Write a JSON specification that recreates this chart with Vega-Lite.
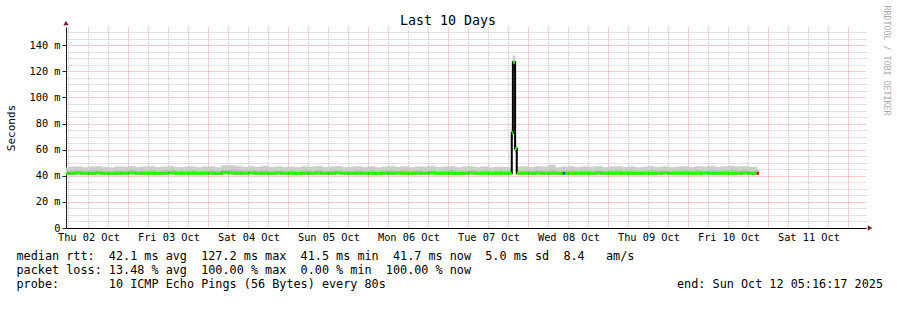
{
  "$schema": "https://vega.github.io/schema/vega-lite/v6.json",
  "width": 800,
  "height": 201,
  "autosize": "none",
  "padding": {"left": 66, "top": 27, "right": 31, "bottom": 82},
  "background": "white",
  "config": {"view": {"stroke": null}},
  "title": {"text": "Last 10 Days", "font": "DejaVu Sans Mono", "fontSize": 13.3, "fontWeight": "normal", "color": "#000", "anchor": "middle", "frame": "group", "dx": -18, "dy": 26},
  "datasets": {
    "sixes": [
      {"t0":"2025-10-02T06:00Z"},{"t0":"2025-10-02T12:00Z"},{"t0":"2025-10-02T18:00Z"},
      {"t0":"2025-10-03T06:00Z"},{"t0":"2025-10-03T12:00Z"},{"t0":"2025-10-03T18:00Z"},
      {"t0":"2025-10-04T06:00Z"},{"t0":"2025-10-04T12:00Z"},{"t0":"2025-10-04T18:00Z"},
      {"t0":"2025-10-05T06:00Z"},{"t0":"2025-10-05T12:00Z"},{"t0":"2025-10-05T18:00Z"},
      {"t0":"2025-10-06T06:00Z"},{"t0":"2025-10-06T12:00Z"},{"t0":"2025-10-06T18:00Z"},
      {"t0":"2025-10-07T06:00Z"},{"t0":"2025-10-07T12:00Z"},{"t0":"2025-10-07T18:00Z"},
      {"t0":"2025-10-08T06:00Z"},{"t0":"2025-10-08T12:00Z"},{"t0":"2025-10-08T18:00Z"},
      {"t0":"2025-10-09T06:00Z"},{"t0":"2025-10-09T12:00Z"},{"t0":"2025-10-09T18:00Z"},
      {"t0":"2025-10-10T06:00Z"},{"t0":"2025-10-10T12:00Z"},{"t0":"2025-10-10T18:00Z"},
      {"t0":"2025-10-11T06:00Z"},{"t0":"2025-10-11T12:00Z"},{"t0":"2025-10-11T18:00Z"}
    ],
    "rtt": [
      {"t0":"2025-10-02T05:16Z","t1":"2025-10-02T06:00Z","lo":41.3,"mid":43.2,"hi":46.2,"med":41.9,"loss":"0"},
      {"t0":"2025-10-02T06:00Z","t1":"2025-10-02T08:00Z","lo":41.3,"mid":43.6,"hi":46.8,"med":41.9,"loss":"0"},
      {"t0":"2025-10-02T08:00Z","t1":"2025-10-02T10:00Z","lo":41.3,"mid":43.8,"hi":47.0,"med":42.2,"loss":"0"},
      {"t0":"2025-10-02T10:00Z","t1":"2025-10-02T12:00Z","lo":41.3,"mid":43.4,"hi":46.4,"med":41.9,"loss":"0"},
      {"t0":"2025-10-02T12:00Z","t1":"2025-10-02T14:00Z","lo":41.3,"mid":43.9,"hi":46.9,"med":41.9,"loss":"0"},
      {"t0":"2025-10-02T14:00Z","t1":"2025-10-02T16:00Z","lo":41.3,"mid":44.0,"hi":47.2,"med":42.1,"loss":"0"},
      {"t0":"2025-10-02T16:00Z","t1":"2025-10-02T18:00Z","lo":41.3,"mid":43.5,"hi":46.6,"med":41.9,"loss":"0"},
      {"t0":"2025-10-02T18:00Z","t1":"2025-10-02T20:00Z","lo":41.3,"mid":43.2,"hi":46.3,"med":41.8,"loss":"0"},
      {"t0":"2025-10-02T20:00Z","t1":"2025-10-02T22:00Z","lo":41.3,"mid":43.8,"hi":47.0,"med":42.0,"loss":"0"},
      {"t0":"2025-10-02T22:00Z","t1":"2025-10-03T00:00Z","lo":41.3,"mid":43.6,"hi":46.8,"med":41.9,"loss":"0"},
      {"t0":"2025-10-03T00:00Z","t1":"2025-10-03T02:00Z","lo":41.3,"mid":44.1,"hi":47.4,"med":42.2,"loss":"0"},
      {"t0":"2025-10-03T02:00Z","t1":"2025-10-03T04:00Z","lo":41.3,"mid":43.5,"hi":46.7,"med":41.9,"loss":"0"},
      {"t0":"2025-10-03T04:00Z","t1":"2025-10-03T06:00Z","lo":41.3,"mid":43.7,"hi":46.9,"med":41.9,"loss":"0"},
      {"t0":"2025-10-03T06:00Z","t1":"2025-10-03T08:00Z","lo":41.3,"mid":44.0,"hi":47.2,"med":42.0,"loss":"0"},
      {"t0":"2025-10-03T08:00Z","t1":"2025-10-03T10:00Z","lo":41.3,"mid":43.3,"hi":46.5,"med":41.8,"loss":"0"},
      {"t0":"2025-10-03T10:00Z","t1":"2025-10-03T12:00Z","lo":41.3,"mid":43.8,"hi":46.9,"med":41.9,"loss":"0"},
      {"t0":"2025-10-03T12:00Z","t1":"2025-10-03T14:00Z","lo":41.3,"mid":44.1,"hi":47.3,"med":42.2,"loss":"0"},
      {"t0":"2025-10-03T14:00Z","t1":"2025-10-03T16:00Z","lo":41.3,"mid":43.5,"hi":46.6,"med":41.9,"loss":"0"},
      {"t0":"2025-10-03T16:00Z","t1":"2025-10-03T18:00Z","lo":41.3,"mid":43.6,"hi":46.8,"med":41.9,"loss":"0"},
      {"t0":"2025-10-03T18:00Z","t1":"2025-10-03T20:00Z","lo":41.3,"mid":43.9,"hi":47.1,"med":42.0,"loss":"0"},
      {"t0":"2025-10-03T20:00Z","t1":"2025-10-03T22:00Z","lo":41.3,"mid":43.4,"hi":46.5,"med":41.9,"loss":"0"},
      {"t0":"2025-10-03T22:00Z","t1":"2025-10-04T00:00Z","lo":41.3,"mid":43.7,"hi":46.9,"med":41.9,"loss":"0"},
      {"t0":"2025-10-04T00:00Z","t1":"2025-10-04T02:00Z","lo":41.3,"mid":43.8,"hi":47.0,"med":42.0,"loss":"0"},
      {"t0":"2025-10-04T02:00Z","t1":"2025-10-04T04:00Z","lo":41.3,"mid":43.3,"hi":46.4,"med":41.8,"loss":"0"},
      {"t0":"2025-10-04T04:00Z","t1":"2025-10-04T06:00Z","lo":41.3,"mid":44.3,"hi":47.8,"med":42.3,"loss":"0"},
      {"t0":"2025-10-04T06:00Z","t1":"2025-10-04T08:00Z","lo":41.3,"mid":44.5,"hi":48.0,"med":42.1,"loss":"0"},
      {"t0":"2025-10-04T08:00Z","t1":"2025-10-04T10:00Z","lo":41.3,"mid":44.0,"hi":47.3,"med":41.9,"loss":"0"},
      {"t0":"2025-10-04T10:00Z","t1":"2025-10-04T12:00Z","lo":41.3,"mid":43.6,"hi":46.7,"med":41.9,"loss":"0"},
      {"t0":"2025-10-04T12:00Z","t1":"2025-10-04T14:00Z","lo":41.3,"mid":43.9,"hi":47.2,"med":42.2,"loss":"0"},
      {"t0":"2025-10-04T14:00Z","t1":"2025-10-04T16:00Z","lo":41.3,"mid":43.6,"hi":46.8,"med":41.9,"loss":"0"},
      {"t0":"2025-10-04T16:00Z","t1":"2025-10-04T18:00Z","lo":41.3,"mid":44.2,"hi":47.5,"med":42.0,"loss":"0"},
      {"t0":"2025-10-04T18:00Z","t1":"2025-10-04T20:00Z","lo":41.3,"mid":43.5,"hi":46.6,"med":41.9,"loss":"0"},
      {"t0":"2025-10-04T20:00Z","t1":"2025-10-04T22:00Z","lo":41.3,"mid":43.8,"hi":47.0,"med":42.1,"loss":"0"},
      {"t0":"2025-10-04T22:00Z","t1":"2025-10-05T00:00Z","lo":41.3,"mid":43.5,"hi":46.7,"med":41.9,"loss":"0"},
      {"t0":"2025-10-05T00:00Z","t1":"2025-10-05T02:00Z","lo":41.3,"mid":43.7,"hi":46.9,"med":41.9,"loss":"0"},
      {"t0":"2025-10-05T02:00Z","t1":"2025-10-05T04:00Z","lo":41.3,"mid":43.4,"hi":46.5,"med":41.8,"loss":"0"},
      {"t0":"2025-10-05T04:00Z","t1":"2025-10-05T06:00Z","lo":41.3,"mid":43.9,"hi":47.1,"med":42.0,"loss":"0"},
      {"t0":"2025-10-05T06:00Z","t1":"2025-10-05T08:00Z","lo":41.3,"mid":43.6,"hi":46.8,"med":41.9,"loss":"0"},
      {"t0":"2025-10-05T08:00Z","t1":"2025-10-05T10:00Z","lo":41.3,"mid":44.1,"hi":47.4,"med":42.1,"loss":"0"},
      {"t0":"2025-10-05T10:00Z","t1":"2025-10-05T12:00Z","lo":41.3,"mid":43.4,"hi":46.6,"med":41.9,"loss":"0"},
      {"t0":"2025-10-05T12:00Z","t1":"2025-10-05T14:00Z","lo":41.3,"mid":43.7,"hi":46.9,"med":41.9,"loss":"0"},
      {"t0":"2025-10-05T14:00Z","t1":"2025-10-05T16:00Z","lo":41.3,"mid":44.0,"hi":47.3,"med":42.2,"loss":"0"},
      {"t0":"2025-10-05T16:00Z","t1":"2025-10-05T18:00Z","lo":41.3,"mid":43.4,"hi":46.5,"med":41.9,"loss":"0"},
      {"t0":"2025-10-05T18:00Z","t1":"2025-10-05T20:00Z","lo":41.3,"mid":43.6,"hi":46.8,"med":41.9,"loss":"0"},
      {"t0":"2025-10-05T20:00Z","t1":"2025-10-05T22:00Z","lo":41.3,"mid":44.0,"hi":47.2,"med":42.0,"loss":"0"},
      {"t0":"2025-10-05T22:00Z","t1":"2025-10-06T00:00Z","lo":41.3,"mid":43.5,"hi":46.6,"med":41.9,"loss":"0"},
      {"t0":"2025-10-06T00:00Z","t1":"2025-10-06T02:00Z","lo":41.3,"mid":43.8,"hi":47.0,"med":41.9,"loss":"0"},
      {"t0":"2025-10-06T02:00Z","t1":"2025-10-06T04:00Z","lo":41.3,"mid":43.3,"hi":46.4,"med":41.8,"loss":"0"},
      {"t0":"2025-10-06T04:00Z","t1":"2025-10-06T06:00Z","lo":41.3,"mid":43.7,"hi":46.9,"med":42.0,"loss":"0"},
      {"t0":"2025-10-06T06:00Z","t1":"2025-10-06T08:00Z","lo":41.3,"mid":44.0,"hi":47.3,"med":41.9,"loss":"0"},
      {"t0":"2025-10-06T08:00Z","t1":"2025-10-06T10:00Z","lo":41.3,"mid":43.6,"hi":46.7,"med":42.1,"loss":"0"},
      {"t0":"2025-10-06T10:00Z","t1":"2025-10-06T12:00Z","lo":41.3,"mid":43.9,"hi":47.1,"med":41.9,"loss":"0"},
      {"t0":"2025-10-06T12:00Z","t1":"2025-10-06T14:00Z","lo":41.3,"mid":43.4,"hi":46.5,"med":41.9,"loss":"0"},
      {"t0":"2025-10-06T14:00Z","t1":"2025-10-06T16:00Z","lo":41.3,"mid":43.8,"hi":47.0,"med":42.0,"loss":"0"},
      {"t0":"2025-10-06T16:00Z","t1":"2025-10-06T18:00Z","lo":41.3,"mid":43.6,"hi":46.8,"med":41.9,"loss":"0"},
      {"t0":"2025-10-06T18:00Z","t1":"2025-10-06T20:00Z","lo":41.3,"mid":44.1,"hi":47.4,"med":42.2,"loss":"0"},
      {"t0":"2025-10-06T20:00Z","t1":"2025-10-06T22:00Z","lo":41.3,"mid":43.5,"hi":46.6,"med":41.9,"loss":"0"},
      {"t0":"2025-10-06T22:00Z","t1":"2025-10-07T00:00Z","lo":41.3,"mid":43.7,"hi":46.9,"med":41.9,"loss":"0"},
      {"t0":"2025-10-07T00:00Z","t1":"2025-10-07T02:00Z","lo":41.3,"mid":44.0,"hi":47.2,"med":42.0,"loss":"0"},
      {"t0":"2025-10-07T02:00Z","t1":"2025-10-07T04:00Z","lo":41.3,"mid":43.4,"hi":46.5,"med":41.8,"loss":"0"},
      {"t0":"2025-10-07T04:00Z","t1":"2025-10-07T06:00Z","lo":41.3,"mid":43.7,"hi":46.9,"med":41.9,"loss":"0"},
      {"t0":"2025-10-07T06:00Z","t1":"2025-10-07T08:00Z","lo":41.3,"mid":43.9,"hi":47.1,"med":42.1,"loss":"0"},
      {"t0":"2025-10-07T08:00Z","t1":"2025-10-07T10:00Z","lo":41.3,"mid":43.5,"hi":46.6,"med":41.9,"loss":"0"},
      {"t0":"2025-10-07T10:00Z","t1":"2025-10-07T12:00Z","lo":41.3,"mid":43.8,"hi":47.0,"med":41.9,"loss":"0"},
      {"t0":"2025-10-07T12:00Z","t1":"2025-10-07T14:00Z","lo":41.3,"mid":43.3,"hi":46.4,"med":41.9,"loss":"0"},
      {"t0":"2025-10-07T14:00Z","t1":"2025-10-07T16:00Z","lo":41.3,"mid":43.6,"hi":46.8,"med":42.0,"loss":"0"},
      {"t0":"2025-10-07T16:00Z","t1":"2025-10-07T18:00Z","lo":41.3,"mid":43.5,"hi":46.7,"med":41.9,"loss":"0"},
      {"t0":"2025-10-07T18:00Z","t1":"2025-10-07T19:00Z","lo":41.3,"mid":43.4,"hi":46.5,"med":41.9,"loss":"0"},
      {"t0":"2025-10-07T19:00Z","t1":"2025-10-07T19:20Z","lo":68,"mid":71,"hi":78,"med":73,"loss":"0"},
      {"t0":"2025-10-07T19:20Z","t1":"2025-10-07T20:00Z","lo":121,"mid":124,"hi":132,"med":127,"loss":"0"},
      {"t0":"2025-10-07T20:00Z","t1":"2025-10-07T20:30Z","lo":58,"mid":60,"hi":66,"med":61,"loss":"0"},
      {"t0":"2025-10-07T20:30Z","t1":"2025-10-07T22:00Z","lo":41.3,"mid":43.6,"hi":46.8,"med":41.9,"loss":"0"},
      {"t0":"2025-10-07T22:00Z","t1":"2025-10-08T00:00Z","lo":41.3,"mid":43.8,"hi":47.0,"med":41.9,"loss":"0"},
      {"t0":"2025-10-08T00:00Z","t1":"2025-10-08T02:00Z","lo":41.3,"mid":43.5,"hi":46.6,"med":41.9,"loss":"0"},
      {"t0":"2025-10-08T02:00Z","t1":"2025-10-08T04:00Z","lo":41.3,"mid":43.9,"hi":47.2,"med":42.1,"loss":"0"},
      {"t0":"2025-10-08T04:00Z","t1":"2025-10-08T06:00Z","lo":41.3,"mid":43.6,"hi":46.8,"med":41.9,"loss":"0"},
      {"t0":"2025-10-08T06:00Z","t1":"2025-10-08T08:00Z","lo":41.3,"mid":44.3,"hi":48.3,"med":42.0,"loss":"0"},
      {"t0":"2025-10-08T08:00Z","t1":"2025-10-08T10:00Z","lo":41.3,"mid":43.4,"hi":46.5,"med":41.9,"loss":"0"},
      {"t0":"2025-10-08T10:00Z","t1":"2025-10-08T10:20Z","lo":41.3,"mid":43.6,"hi":46.9,"med":41.9,"loss":"0"},
      {"t0":"2025-10-08T10:20Z","t1":"2025-10-08T11:00Z","lo":41.3,"mid":43.6,"hi":46.9,"med":41.9,"loss":"2/10"},
      {"t0":"2025-10-08T11:00Z","t1":"2025-10-08T12:00Z","lo":41.3,"mid":43.6,"hi":46.9,"med":41.9,"loss":"0"},
      {"t0":"2025-10-08T12:00Z","t1":"2025-10-08T14:00Z","lo":41.3,"mid":43.9,"hi":47.1,"med":41.9,"loss":"0"},
      {"t0":"2025-10-08T14:00Z","t1":"2025-10-08T16:00Z","lo":41.3,"mid":43.5,"hi":46.6,"med":42.0,"loss":"0"},
      {"t0":"2025-10-08T16:00Z","t1":"2025-10-08T18:00Z","lo":41.3,"mid":43.8,"hi":47.0,"med":41.9,"loss":"0"},
      {"t0":"2025-10-08T18:00Z","t1":"2025-10-08T20:00Z","lo":41.3,"mid":43.5,"hi":46.7,"med":41.9,"loss":"0"},
      {"t0":"2025-10-08T20:00Z","t1":"2025-10-08T22:00Z","lo":41.3,"mid":44.0,"hi":47.3,"med":42.1,"loss":"0"},
      {"t0":"2025-10-08T22:00Z","t1":"2025-10-09T00:00Z","lo":41.3,"mid":43.4,"hi":46.5,"med":41.9,"loss":"0"},
      {"t0":"2025-10-09T00:00Z","t1":"2025-10-09T02:00Z","lo":41.3,"mid":43.7,"hi":46.9,"med":41.9,"loss":"0"},
      {"t0":"2025-10-09T02:00Z","t1":"2025-10-09T04:00Z","lo":41.3,"mid":44.0,"hi":47.2,"med":42.0,"loss":"0"},
      {"t0":"2025-10-09T04:00Z","t1":"2025-10-09T06:00Z","lo":41.3,"mid":43.5,"hi":46.6,"med":41.9,"loss":"0"},
      {"t0":"2025-10-09T06:00Z","t1":"2025-10-09T08:00Z","lo":41.3,"mid":43.8,"hi":47.0,"med":41.9,"loss":"0"},
      {"t0":"2025-10-09T08:00Z","t1":"2025-10-09T10:00Z","lo":41.3,"mid":43.3,"hi":46.4,"med":41.8,"loss":"0"},
      {"t0":"2025-10-09T10:00Z","t1":"2025-10-09T12:00Z","lo":41.3,"mid":43.6,"hi":46.8,"med":42.0,"loss":"0"},
      {"t0":"2025-10-09T12:00Z","t1":"2025-10-09T14:00Z","lo":41.3,"mid":44.0,"hi":47.3,"med":41.9,"loss":"0"},
      {"t0":"2025-10-09T14:00Z","t1":"2025-10-09T16:00Z","lo":41.3,"mid":43.5,"hi":46.7,"med":41.9,"loss":"0"},
      {"t0":"2025-10-09T16:00Z","t1":"2025-10-09T18:00Z","lo":41.3,"mid":43.8,"hi":47.0,"med":42.1,"loss":"0"},
      {"t0":"2025-10-09T18:00Z","t1":"2025-10-09T20:00Z","lo":41.3,"mid":43.4,"hi":46.5,"med":41.9,"loss":"0"},
      {"t0":"2025-10-09T20:00Z","t1":"2025-10-09T22:00Z","lo":41.3,"mid":43.7,"hi":46.9,"med":41.9,"loss":"0"},
      {"t0":"2025-10-09T22:00Z","t1":"2025-10-10T00:00Z","lo":41.3,"mid":43.9,"hi":47.1,"med":42.0,"loss":"0"},
      {"t0":"2025-10-10T00:00Z","t1":"2025-10-10T02:00Z","lo":41.3,"mid":43.5,"hi":46.6,"med":41.9,"loss":"0"},
      {"t0":"2025-10-10T02:00Z","t1":"2025-10-10T04:00Z","lo":41.3,"mid":44.0,"hi":47.2,"med":41.9,"loss":"0"},
      {"t0":"2025-10-10T04:00Z","t1":"2025-10-10T06:00Z","lo":41.3,"mid":43.6,"hi":46.8,"med":42.1,"loss":"0"},
      {"t0":"2025-10-10T06:00Z","t1":"2025-10-10T08:00Z","lo":41.3,"mid":44.1,"hi":47.4,"med":41.9,"loss":"0"},
      {"t0":"2025-10-10T08:00Z","t1":"2025-10-10T10:00Z","lo":41.3,"mid":43.5,"hi":46.6,"med":41.9,"loss":"0"},
      {"t0":"2025-10-10T10:00Z","t1":"2025-10-10T12:00Z","lo":41.3,"mid":43.8,"hi":47.0,"med":42.0,"loss":"0"},
      {"t0":"2025-10-10T12:00Z","t1":"2025-10-10T14:00Z","lo":41.3,"mid":44.2,"hi":47.5,"med":41.9,"loss":"0"},
      {"t0":"2025-10-10T14:00Z","t1":"2025-10-10T16:00Z","lo":41.3,"mid":43.7,"hi":46.9,"med":41.9,"loss":"0"},
      {"t0":"2025-10-10T16:00Z","t1":"2025-10-10T18:00Z","lo":41.3,"mid":44.0,"hi":47.2,"med":42.1,"loss":"0"},
      {"t0":"2025-10-10T18:00Z","t1":"2025-10-10T20:00Z","lo":41.3,"mid":43.5,"hi":46.7,"med":41.9,"loss":"0"},
      {"t0":"2025-10-10T20:00Z","t1":"2025-10-10T20:30Z","lo":41.3,"mid":43.6,"hi":46.8,"med":41.9,"loss":"0"},
      {"t0":"2025-10-10T20:30Z","t1":"2025-10-10T21:10Z","lo":41.3,"mid":44.0,"hi":44.5,"med":41.9,"loss":"9/10"}
    ]
  },
  "data": {"name": "rtt"},
  "encoding": {
    "x": {
      "field": "t0",
      "type": "temporal",
      "scale": {"type": "utc", "domain": [{"year": 2025, "month": 10, "date": 2, "hours": 5, "minutes": 16, "seconds": 17, "utc": true}, {"year": 2025, "month": 10, "date": 12, "hours": 5, "minutes": 16, "seconds": 17, "utc": true}]},
      "axis": {
        "tickCount": 10,
        "labelExpr": "['Thu 02 Oct','Fri 03 Oct','Sat 04 Oct','Sun 05 Oct','Mon 06 Oct','Tue 07 Oct','Wed 08 Oct','Thu 09 Oct','Fri 10 Oct','Sat 11 Oct'][round((datum.value - 1759449600000) / 86400000)]",
        "labelOffset": -40,
        "grid": true,
        "gridColor": "#eb9a9a",
        "gridDash": [1, 1],
        "ticks": false,
        "domainColor": "#000",
        "labelOverlap": false,
        "labelFlush": false,
        "labelBound": false,
        "labelFont": "DejaVu Sans Mono",
        "labelFontSize": 10.3,
        "labelColor": "#000",
        "labelPadding": 4,
        "title": [
          "median rtt:\u00a0\u00a042.1 ms avg\u00a0\u00a0127.2 ms max\u00a0\u00a041.5 ms min\u00a0\u00a041.7 ms now\u00a0\u00a05.0 ms sd\u00a0\u00a08.4\u00a0\u00a0\u00a0am/s",
          "packet loss: 13.48 % avg\u00a0\u00a0100.00 % max\u00a0\u00a00.00 % min\u00a0\u00a0100.00 % now",
          "\u00a0",
          "probe:\u00a0\u00a0\u00a0\u00a0\u00a0\u00a0\u00a010 ICMP Echo Pings (56 Bytes) every 80s\u00a0\u00a0\u00a0\u00a0\u00a0\u00a0\u00a0\u00a0\u00a0\u00a0\u00a0\u00a0\u00a0\u00a0\u00a0\u00a0\u00a0\u00a0\u00a0\u00a0\u00a0\u00a0\u00a0\u00a0\u00a0\u00a0\u00a0\u00a0\u00a0\u00a0\u00a0\u00a0\u00a0\u00a0\u00a0\u00a0\u00a0\u00a0\u00a0\u00a0\u00a0end: Sun Oct 12 05:16:17 2025"
        ],
        "titleFont": "DejaVu Sans Mono",
        "titleFontSize": 11.8,
        "titleFontWeight": "normal",
        "titleColor": "#000",
        "titleAlign": "left",
        "titleBaseline": "alphabetic",
        "titleLineHeight": 14,
        "titleX": -50,
        "titleY": 31.5
      }
    }
  },
  "layer": [
    {
      "data": {"name": "sixes"},
      "mark": {"type": "rule", "color": "#c4c4c4", "strokeDash": [1, 1], "strokeWidth": 1},
      "encoding": {}
    },
    {
      "mark": {"type": "bar", "color": "#cdcdcd", "stroke": "#cdcdcd", "strokeWidth": 0.5, "clip": true},
      "encoding": {
        "x2": {"field": "t1"},
        "y": {
          "field": "lo",
          "type": "quantitative",
          "scale": {"domain": [0, 154], "nice": false},
          "axis": {
            "values": [0, 20, 40, 60, 80, 100, 120, 140],
            "grid": true,
            "gridColor": "#eb9a9a",
            "gridDash": [1, 1],
            "ticks": true,
            "tickSize": 4,
            "tickColor": "#1f1f1f",
            "domainColor": "#1f1f1f",
            "labelExpr": "datum.value === 0 ? '0' : datum.value + ' m'",
            "labelFont": "DejaVu Sans Mono",
            "labelFontSize": 10.3,
            "labelColor": "#000",
            "labelPadding": 2,
            "labelOverlap": false,
            "labelBound": false,
            "labelFlush": false,
            "title": "Seconds",
            "titleFont": "DejaVu Sans Mono",
            "titleFontSize": 11,
            "titleFontWeight": "normal",
            "titleColor": "#000",
            "titleX": -55,
            "titleY": 100.5,
            "titleAlign": "center",
            "titleBaseline": "middle",
            "titleAngle": -90
          }
        },
        "y2": {"field": "hi"}
      }
    },
    {
      "mark": {"type": "bar", "color": "#bababa", "stroke": "#bababa", "strokeWidth": 0.5, "clip": true},
      "encoding": {
        "x2": {"field": "t1"},
        "y": {"field": "lo", "type": "quantitative", "scale": {"domain": [0, 154], "nice": false}, "axis": null},
        "y2": {"field": "mid"}
      }
    },
    {
      "mark": {"type": "line", "interpolate": "step-after", "color": "#000", "strokeWidth": 2, "clip": true},
      "encoding": {
        "y": {
          "field": "med",
          "type": "quantitative",
          "scale": {"domain": [0, 154], "nice": false},
          "axis": {
            "orient": "right",
            "values": [5,10,15,25,30,35,45,50,55,65,70,75,85,90,95,105,110,115,125,130,135,145,150],
            "domain": false,
            "ticks": false,
            "labels": false,
            "grid": true,
            "gridColor": "#c4c4c4",
            "gridDash": [1, 1],
            "title": "RRDTOOL / TOBI OETIKER",
            "titleAngle": 90,
            "titleX": 19,
            "titleY": -22,
            "titleAlign": "left",
            "titleBaseline": "middle",
            "titleFont": "DejaVu Sans Mono",
            "titleFontSize": 8.3,
            "titleFontWeight": "normal",
            "titleColor": "#aaaaaa"
          }
        }
      }
    },
    {
      "mark": {"type": "rule", "strokeWidth": 3, "strokeCap": "butt", "clip": true},
      "encoding": {
        "x2": {"field": "t1"},
        "y": {"field": "med", "type": "quantitative", "scale": {"domain": [0, 154], "nice": false}, "axis": null},
        "stroke": {
          "field": "loss",
          "type": "nominal",
          "scale": {"domain": ["0", "1/10", "2/10", "3/10", "4/10", "5/10", "9/10"], "range": ["#26ff00", "#00b8ff", "#0059ff", "#5e00ff", "#7e00ff", "#dd00ff", "#ff0000"]},
          "legend": null
        }
      }
    },
    {
      "transform": [{"filter": "datum.loss === 'none'"}],
      "mark": {"type": "square", "filled": true, "stroke": "#000", "strokeWidth": 1, "opacity": 1},
      "encoding": {
        "fill": {
          "field": "loss",
          "type": "nominal",
          "scale": {"domain": ["0", "1/10", "2/10", "3/10", "4/10", "5/10", "9/10"], "range": ["#26ff00", "#00b8ff", "#0059ff", "#5e00ff", "#7e00ff", "#dd00ff", "#ff0000"]},
          "legend": {
            "title": "loss color:",
            "orient": "none",
            "direction": "horizontal",
            "legendX": -50,
            "legendY": 248,
            "titleOrient": "left",
            "titleFont": "DejaVu Sans Mono",
            "titleFontSize": 11.8,
            "titleFontWeight": "normal",
            "titleColor": "#000",
            "titlePadding": 14,
            "labelFont": "DejaVu Sans Mono",
            "labelFontSize": 11.8,
            "labelColor": "#000",
            "labelOffset": 8,
            "columnPadding": 12,
            "symbolType": "square",
            "symbolSize": 49,
            "symbolStrokeWidth": 1,
            "symbolStrokeColor": "#000",
            "symbolOpacity": 1
          }
        }
      }
    },
    {
      "data": {"values": [{"t0": "2025-10-02T05:16:17Z", "v": 154}]},
      "mark": {"type": "point", "shape": "triangle-up", "filled": true, "color": "#7f1f1f", "size": 28, "yOffset": -4, "opacity": 1},
      "encoding": {
        "y": {"field": "v", "type": "quantitative", "scale": {"domain": [0, 154], "nice": false}, "axis": null}
      }
    },
    {
      "data": {"values": [{"t0": "2025-10-12T05:16:17Z", "v": 0}]},
      "mark": {"type": "point", "shape": "triangle-right", "filled": true, "color": "#7f1f1f", "size": 28, "xOffset": 4, "opacity": 1},
      "encoding": {
        "y": {"field": "v", "type": "quantitative", "scale": {"domain": [0, 154], "nice": false}, "axis": null}
      }
    }
  ],
  "resolve": {"axis": {"y": "independent"}}
}
